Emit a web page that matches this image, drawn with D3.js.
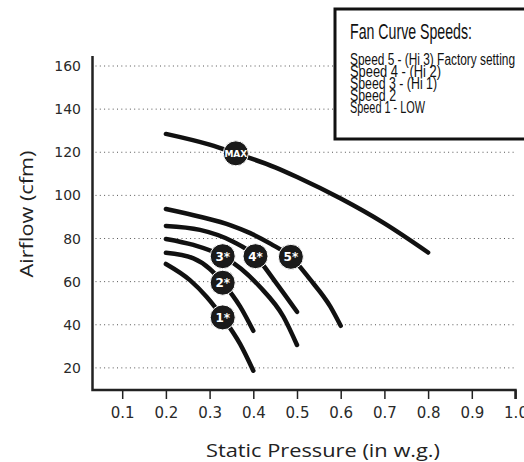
<!DOCTYPE html>
<html>
<head>
<meta charset="utf-8">
<script src="https://cdn.jsdelivr.net/npm/d3@7"></script>
<style>
  html, body { margin: 0; padding: 0; background: #fff; }
  svg { display: block; }
</style>
</head>
<body>
<svg id="chart" width="524" height="462"></svg>
<script>
// ---- data ----
const xTicks = [0.1, 0.2, 0.3, 0.4, 0.5, 0.6, 0.7, 0.8, 0.9, 1.0];
const xTickLabels = ["0.1", "0.2", "0.3", "0.4", "0.5", "0.6", "0.7", "0.8", "0.9", "1.0"];
const yTicks = [20, 40, 60, 80, 100, 120, 140, 160];

const curveMax = [[0.2, 128.5], [0.3, 123.5], [0.36, 119.5], [0.45, 113], [0.5, 108.5], [0.6, 98.5], [0.7, 87], [0.8, 73.5]];
const curve5 = [[0.2, 93.7], [0.278, 90.1], [0.35, 86], [0.393, 82.5], [0.44, 77.5], [0.486, 71.5], [0.53, 61], [0.576, 48.5], [0.6, 39.5]];
const curve4 = [[0.2, 85.8], [0.278, 84], [0.354, 78.5], [0.405, 71.8], [0.453, 59.2], [0.5, 46]];
const curve3 = [[0.2, 79.8], [0.263, 77], [0.33, 71.8], [0.372, 66], [0.415, 57.6], [0.469, 43.7], [0.5, 30.6]];
const curve2 = [[0.2, 73.4], [0.263, 70.8], [0.3, 66], [0.33, 59.5], [0.37, 48.4], [0.4, 37.2]];
const curve1 = [[0.2, 68.2], [0.255, 60.7], [0.293, 53], [0.33, 43.4], [0.37, 31], [0.4, 18.7]];
const curves = [curveMax, curve5, curve4, curve3, curve2, curve1];

const markerLabels = ["MAX", "5*", "4*", "3*", "2*", "1*"];
const markerX = [0.36, 0.486, 0.405, 0.33, 0.33, 0.33];
const markerY = [119.5, 71.5, 71.8, 71.8, 59.5, 43.4];

const legendTitle = "Fan Curve Speeds:";
const legendItems = ["Speed 5 - (Hi 3) Factory setting", "Speed 4 - (Hi 2)", "Speed 3 - (Hi 1)", "Speed 2", "Speed 1 - LOW"];

const xTitle = "Static Pressure (in w.g.)";
const yTitle = "Airflow (cfm)";

// ---- drawing ----
const svg = d3.select("#chart");
const x = d3.scaleLinear().domain([0, 1]).range([78.5, 515.5]);
const y = d3.scaleLinear().domain([0, 160]).range([411, 66]);
const axisLeftX = 92.5, axisBottomY = 390, axisTopY = 56;

// gridlines
svg.append("g").selectAll("line").data(yTicks).join("line")
  .attr("x1", axisLeftX + 3).attr("x2", 515)
  .attr("y1", d => y(d)).attr("y2", d => y(d))
  .attr("stroke", "#555").attr("stroke-width", 1)
  .attr("stroke-dasharray", "1,3.3");

// y tick labels
svg.append("g").selectAll("text").data(yTicks).join("text")
  .attr("x", 81).attr("y", d => y(d) + 5)
  .attr("text-anchor", "end")
  .attr("font-family", "DejaVu Sans").attr("font-size", 14)
  .attr("fill", "#2a2a2a")
  .text(d => d);

// x axis
const xAxis = d3.axisBottom(x).tickValues(xTicks)
  .tickFormat((d, i) => xTickLabels[i]).tickSize(9).tickPadding(8);
const gx = svg.append("g").attr("transform", `translate(0,${axisBottomY})`).call(xAxis);
gx.select(".domain").remove();
gx.selectAll(".tick line").attr("stroke", "#222").attr("stroke-width", 1.5);
gx.selectAll(".tick text").attr("font-family", "DejaVu Sans").attr("font-size", 15).attr("fill", "#2a2a2a");

// axis lines
svg.append("path")
  .attr("d", `M${axisLeftX},${axisTopY}V${axisBottomY}H${x(1.0)}V${axisBottomY + 9}`)
  .attr("fill", "none").attr("stroke", "#222").attr("stroke-width", 2.5);

// titles
svg.append("text").attr("x", 323).attr("y", 457)
  .attr("text-anchor", "middle").attr("font-family", "Open Sans").attr("font-size", 19)
  .attr("textLength", 234).attr("lengthAdjust", "spacingAndGlyphs")
  .attr("fill", "#222").text(xTitle);
svg.append("text").attr("transform", "translate(33,214) rotate(-90)")
  .attr("text-anchor", "middle").attr("font-family", "Open Sans").attr("font-size", 19)
  .attr("textLength", 127).attr("lengthAdjust", "spacingAndGlyphs")
  .attr("fill", "#222").text(yTitle);

// curves
const line = d3.line().x(d => x(d[0])).y(d => y(d[1])).curve(d3.curveMonotoneX);
svg.append("g").selectAll("path").data(curves).join("path")
  .attr("d", line)
  .attr("fill", "none").attr("stroke", "#111").attr("stroke-width", 4.5)
  .attr("stroke-linecap", "round");

// markers
const mg = svg.append("g").selectAll("g").data(markerLabels).join("g")
  .attr("transform", (d, i) => `translate(${x(markerX[i])},${y(markerY[i])})`);
mg.append("circle").attr("r", 12.5).attr("fill", "#1a1a1a")
  .attr("stroke", "#fff").attr("stroke-width", 1);
mg.append("text").attr("text-anchor", "middle")
  .attr("y", d => d === "MAX" ? 3.5 : 4.5)
  .attr("font-family", "DejaVu Sans").attr("font-weight", "bold")
  .attr("font-size", d => d === "MAX" ? 9 : 12)
  .attr("fill", "#fff").text(d => d);

// legend
svg.append("rect").attr("x", 335).attr("y", 9).attr("width", 200).attr("height", 130)
  .attr("fill", "#fff").attr("stroke", "#111").attr("stroke-width", 3);
svg.append("text").attr("x", 350).attr("y", 39)
  .attr("font-family", "Liberation Sans").attr("font-size", 22)
  .attr("textLength", 122).attr("lengthAdjust", "spacingAndGlyphs")
  .attr("fill", "#111").text(legendTitle);
const legendWidths = [165, 91, 87, 46, 75];
svg.append("g").selectAll("text").data(legendItems).join("text")
  .attr("x", 350).attr("y", (d, i) => 64.5 + i * 12.1)
  .attr("font-family", "Liberation Sans").attr("font-size", 16)
  .attr("textLength", (d, i) => legendWidths[i]).attr("lengthAdjust", "spacingAndGlyphs")
  .attr("fill", "#111").text(d => d);
</script>
</body>
</html>
